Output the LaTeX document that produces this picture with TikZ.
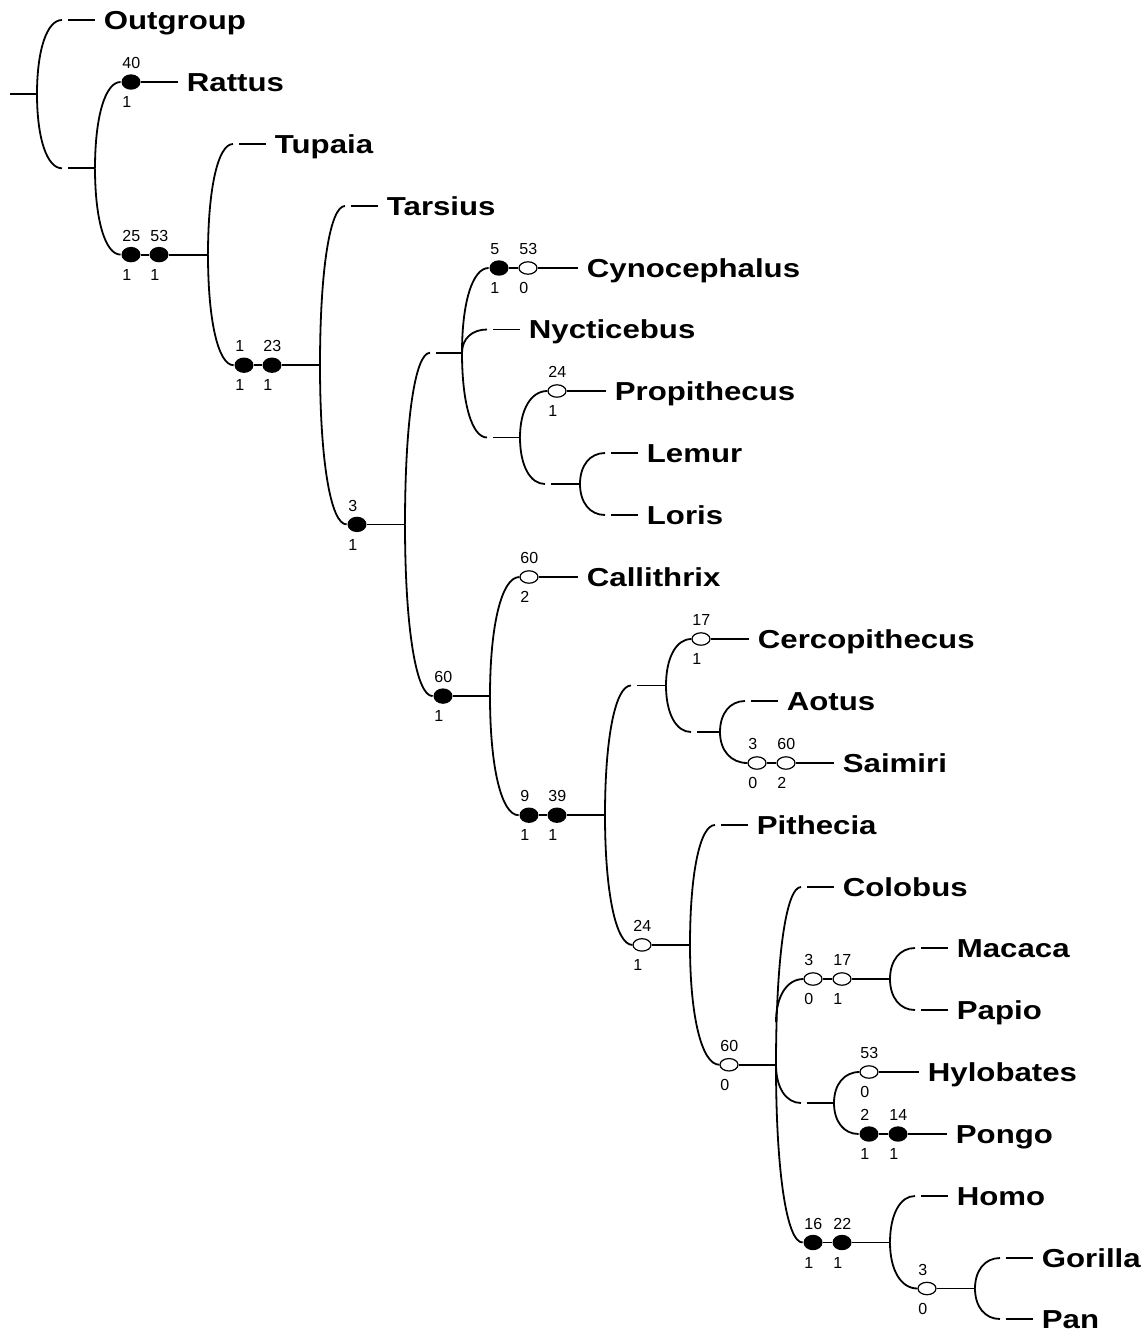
\documentclass[tikz,border=0pt]{standalone}
\usepackage{fontspec}
\setmainfont{Liberation Sans}
\newfontfamily\taxonfont[FakeStretch=1.2]{Liberation Sans}
\usepackage{tikz}
\usetikzlibrary{calc}
\usetikzlibrary{shapes.geometric}
\tikzset{
	filledstyle/.style={ellipse,fill=black,minimum width=9.5pt,minimum height=7.7pt,inner sep=0pt},
	openstyle/.style={ellipse,draw=black,fill=white,line width=0.6pt,minimum width=9pt,minimum height=6.2pt,inner sep=0pt},
	taxonstyle/.style={anchor=west,inner xsep=4pt,inner ysep=0pt,font=\taxonfont\fontsize{13}{16}\selectfont\bfseries,text height=9.3pt,text depth=0pt},
	statestyle/.style={anchor=west,inner sep=0pt,font=\fontsize{8}{9}\selectfont,text height=5.7pt,text depth=0pt},
	branch/.style={to path={let \p1=(\tikztostart), \p2=(\tikztotarget) in
		.. controls (\x1,{\y1+0.6*(\y2-\y1)}) and ({\x2-0.6*(\x2-\x1)},\y2) .. (\tikztotarget)}}
}
% marker with character number above and state below
\newcommand{\trait}[6]{
	\node[#2] (#1) at (#3,#4) {};
	\node[statestyle] (#1u) at ({#3-9.5},{#4-19}) {#5};
	\node[statestyle] (#1l) at ({#3-9.5},{#4+20}) {#6};
}

\begin{document}
\begin{tikzpicture}[x=0.5pt,y=-0.5pt,line width=0.9pt]
		\useasboundingbox (0,0) rectangle (1145,1334);
		% taxa
		\node[taxonstyle] (outgroup) at (95,20) {Outgroup};
		\node[taxonstyle] (rattus) at (178,82) {Rattus};
		\node[taxonstyle] (tupaia) at (266,144) {Tupaia};
		\node[taxonstyle] (tarsius) at (378,206) {Tarsius};
		\node[taxonstyle] (cynocephalus) at (578,268) {Cynocephalus};
		\node[taxonstyle] (nycticebus) at (520,329.5) {Nycticebus};
		\node[taxonstyle] (propithecus) at (606,391) {Propithecus};
		\node[taxonstyle] (lemur) at (638,453) {Lemur};
		\node[taxonstyle] (loris) at (638,515) {Loris};
		\node[taxonstyle] (callithrix) at (578,577) {Callithrix};
		\node[taxonstyle] (cercopithecus) at (749,639) {Cercopithecus};
		\node[taxonstyle] (aotus) at (778,701) {Aotus};
		\node[taxonstyle] (saimiri) at (834,763) {Saimiri};
		\node[taxonstyle] (pithecia) at (748,825) {Pithecia};
		\node[taxonstyle] (colobus) at (834,887) {Colobus};
		\node[taxonstyle] (macaca) at (948,948) {Macaca};
		\node[taxonstyle] (papio) at (948,1010) {Papio};
		\node[taxonstyle] (hylobates) at (919,1072) {Hylobates};
		\node[taxonstyle] (pongo) at (947,1134) {Pongo};
		\node[taxonstyle] (homo) at (948,1196) {Homo};
		\node[taxonstyle] (gorilla) at (1033,1258) {Gorilla};
		\node[taxonstyle] (pan) at (1033,1319) {Pan};
		% internal nodes
		\coordinate (stem) at (10,94);
		\coordinate (vroot) at (37,94);
		\coordinate (vA) at (95,168.3);
		\coordinate (vB) at (208,254.6);
		\coordinate (vC) at (320,365.2);
		\coordinate (vD) at (405,524.4);
		\coordinate (vE) at (462,352.75);
		\coordinate (vG) at (520,437.5);
		\coordinate (vH) at (580,484);
		\coordinate (vF) at (490,696.1);
		\coordinate (vI) at (605,815.2);
		\coordinate (vJ) at (666,685.5);
		\coordinate (vL) at (720,732);
		\coordinate (vK) at (690,944.9);
		\coordinate (vM) at (776,1064.75);
		\coordinate (vN) at (890,979);
		\coordinate (vO) at (834,1103);
		\coordinate (vP) at (890,1242.5);
		\coordinate (vQ) at (975,1288.5);
		% curve ends
		\coordinate (outgroupC) at (62,20);
		\coordinate (aC) at (62,168.3);
		\coordinate (tupaiaC) at (233,144);
		\coordinate (tarsiusC) at (345,206);
		\coordinate (eC) at (430,352.75);
		\coordinate (nycticebusC) at (487,329.5);
		\coordinate (gC) at (487,437.5);
		\coordinate (hC) at (545,484);
		\coordinate (lemurC) at (605,453);
		\coordinate (lorisC) at (605,515);
		\coordinate (jC) at (631,685.5);
		\coordinate (lC) at (691,732);
		\coordinate (aotusC) at (745,701);
		\coordinate (pitheciaC) at (715,825);
		\coordinate (colobusC) at (801,887);
		\coordinate (nS) at (776,1022);
		\coordinate (oC) at (801,1103);
		\coordinate (macacaC) at (915,948);
		\coordinate (papioC) at (915,1010);
		\coordinate (homoC) at (915,1196);
		\coordinate (gorillaC) at (1000,1258);
		\coordinate (panC) at (1000,1319);
		% characters
		\trait{r40}{filledstyle}{131}{82}{40}{1}
		\trait{b25}{filledstyle}{131}{254.6}{25}{1}
		\trait{b53}{filledstyle}{159}{254.6}{53}{1}
		\trait{c1}{filledstyle}{244}{365.2}{1}{1}
		\trait{c23}{filledstyle}{272}{365.2}{23}{1}
		\trait{d3}{filledstyle}{357}{524.4}{3}{1}
		\trait{cy5}{filledstyle}{499}{268}{5}{1}
		\trait{cy53}{openstyle}{528}{268}{53}{0}
		\trait{pr24}{openstyle}{557}{391}{24}{1}
		\trait{f60}{filledstyle}{443}{696.1}{60}{1}
		\trait{ca60}{openstyle}{529}{577}{60}{2}
		\trait{i9}{filledstyle}{529}{815.2}{9}{1}
		\trait{i39}{filledstyle}{557}{815.2}{39}{1}
		\trait{ce17}{openstyle}{701}{639}{17}{1}
		\trait{sa3}{openstyle}{757}{763}{3}{0}
		\trait{sa60}{openstyle}{786}{763}{60}{2}
		\trait{k24}{openstyle}{642}{944.9}{24}{1}
		\trait{m60}{openstyle}{729}{1064.75}{60}{0}
		\trait{n3}{openstyle}{813}{979}{3}{0}
		\trait{n17}{openstyle}{842}{979}{17}{1}
		\trait{hy53}{openstyle}{869}{1072}{53}{0}
		\trait{po2}{filledstyle}{869}{1134}{2}{1}
		\trait{po14}{filledstyle}{898}{1134}{14}{1}
		\trait{p16}{filledstyle}{813}{1242.5}{16}{1}
		\trait{p22}{filledstyle}{842}{1242.5}{22}{1}
		\trait{q3}{openstyle}{927}{1288.5}{3}{0}
		% root to primates
		\draw (stem) -- (vroot);
		\draw[branch] (vroot) to (outgroupC);
		\draw[branch] (vroot) to (aC);
		\draw ([xshift=3pt]outgroupC) -- (outgroup.west);
		\draw ([xshift=3pt]aC) -- (vA);
		\draw[branch] (vA) to (r40.west);
		\draw (r40.east) -- (rattus.west);
		\draw[branch] (vA) to (b25.west);
		\draw (b25.east) -- (b53.west);
		\draw (b53.east) -- (vB);
		\draw[branch] (vB) to (tupaiaC);
		\draw ([xshift=3pt]tupaiaC) -- (tupaia.west);
		\draw[branch] (vB) to (c1.west);
		\draw (c1.east) -- (c23.west);
		\draw (c23.east) -- (vC);
		\draw[branch] (vC) to (tarsiusC);
		\draw ([xshift=3pt]tarsiusC) -- (tarsius.west);
		\draw[branch] (vC) to (d3.west);
		\draw (d3.east) -- (vD);
		\draw[branch] (vD) to (eC);
		\draw ([xshift=3pt]eC) -- (vE);
		\draw[branch] (vD) to (f60.west);
		\draw (f60.east) -- (vF);
		% prosimians
		\draw[branch] (vE) to (cy5.west);
		\draw (cy5.east) -- (cy53.west);
		\draw (cy53.east) -- (cynocephalus.west);
		\draw[branch] (vE) to (nycticebusC);
		\draw ([xshift=3pt]nycticebusC) -- (nycticebus.west);
		\draw[branch] (vE) to (gC);
		\draw ([xshift=3pt]gC) -- (vG);
		\draw[branch] (vG) to (pr24.west);
		\draw (pr24.east) -- (propithecus.west);
		\draw[branch] (vG) to (hC);
		\draw ([xshift=3pt]hC) -- (vH);
		\draw[branch] (vH) to (lemurC);
		\draw[branch] (vH) to (lorisC);
		\draw ([xshift=3pt]lemurC) -- (lemur.west);
		\draw ([xshift=3pt]lorisC) -- (loris.west);
		% anthropoids
		\draw[branch] (vF) to (ca60.west);
		\draw (ca60.east) -- (callithrix.west);
		\draw[branch] (vF) to (i9.west);
		\draw (i9.east) -- (i39.west);
		\draw (i39.east) -- (vI);
		\draw[branch] (vI) to (jC);
		\draw ([xshift=3pt]jC) -- (vJ);
		\draw[branch] (vI) to (k24.west);
		\draw (k24.east) -- (vK);
		\draw[branch] (vJ) to (ce17.west);
		\draw (ce17.east) -- (cercopithecus.west);
		\draw[branch] (vJ) to (lC);
		\draw ([xshift=3pt]lC) -- (vL);
		\draw[branch] (vL) to (aotusC);
		\draw ([xshift=3pt]aotusC) -- (aotus.west);
		\draw[branch] (vL) to (sa3.west);
		\draw (sa3.east) -- (sa60.west);
		\draw (sa60.east) -- (saimiri.west);
		\draw[branch] (vK) to (pitheciaC);
		\draw ([xshift=3pt]pitheciaC) -- (pithecia.west);
		\draw[branch] (vK) to (m60.west);
		\draw (m60.east) -- (vM);
		% catarrhines
		\draw[branch] (vM) to (colobusC);
		\draw ([xshift=3pt]colobusC) -- (colobus.west);
		\draw[branch] (nS) to (n3.west);
		\draw (n3.east) -- (n17.west);
		\draw (n17.east) -- (vN);
		\draw[branch] (vM) to (oC);
		\draw ([xshift=3pt]oC) -- (vO);
		\draw[branch] (vM) to (p16.west);
		\draw (p16.east) -- (p22.west);
		\draw (p22.east) -- (vP);
		\draw[branch] (vN) to (macacaC);
		\draw[branch] (vN) to (papioC);
		\draw ([xshift=3pt]macacaC) -- (macaca.west);
		\draw ([xshift=3pt]papioC) -- (papio.west);
		\draw[branch] (vO) to (hy53.west);
		\draw (hy53.east) -- (hylobates.west);
		\draw[branch] (vO) to (po2.west);
		\draw (po2.east) -- (po14.west);
		\draw (po14.east) -- (pongo.west);
		\draw[branch] (vP) to (homoC);
		\draw ([xshift=3pt]homoC) -- (homo.west);
		\draw[branch] (vP) to (q3.west);
		\draw (q3.east) -- (vQ);
		\draw[branch] (vQ) to (gorillaC);
		\draw[branch] (vQ) to (panC);
		\draw ([xshift=3pt]gorillaC) -- (gorilla.west);
		\draw ([xshift=3pt]panC) -- (pan.west);
\end{tikzpicture}
\end{document}
